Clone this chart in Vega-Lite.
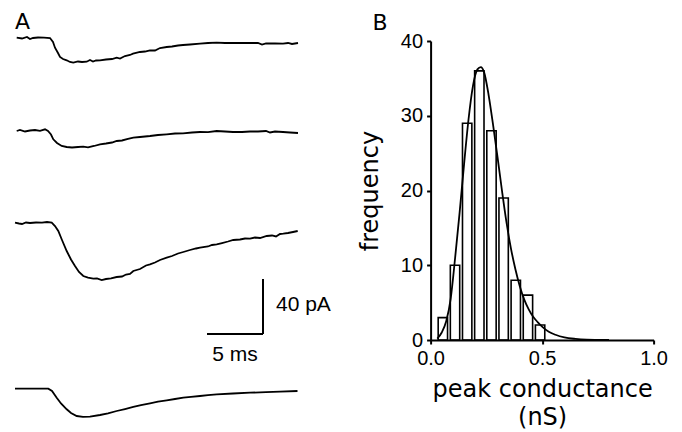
{
  "$schema": "https://vega.github.io/schema/vega-lite/v6.json",
  "background": "white",
  "padding": {"left": 11, "top": 10, "right": 0, "bottom": 0},
  "spacing": 112.6,
  "bounds": "flush",
  "config": {
    "view": {"stroke": null},
    "axis": {
      "grid": false,
      "domainColor": "black",
      "domainWidth": 2,
      "tickColor": "black",
      "tickWidth": 2,
      "tickSize": 4,
      "labelFont": "Liberation Sans",
      "labelFontSize": 20,
      "labelColor": "black",
      "labelPadding": 4,
      "labelFlush": false,
      "labelOverlap": false,
      "titleFont": "DejaVu Sans",
      "titleFontSize": 24,
      "titleFontWeight": "normal",
      "titleColor": "black"
    }
  },
  "datasets": {
    "traces": [
      {"trace": 1, "t": 0.152, "i": 2.4}, {"trace": 1, "t": 0.625, "i": 1.82}, {"trace": 1, "t": 1.071, "i": 2.91}, {"trace": 1, "t": 1.339, "i": 1.45}, {"trace": 1, "t": 1.607, "i": 2.18}, {"trace": 1, "t": 2.054, "i": 2.55}, {"trace": 1, "t": 2.589, "i": 2.4}, {"trace": 1, "t": 3.125, "i": 2.18}, {"trace": 1, "t": 3.393, "i": -0.73}, {"trace": 1, "t": 3.571, "i": -4.87}, {"trace": 1, "t": 3.839, "i": -8.73}, {"trace": 1, "t": 4.018, "i": -11.64}, {"trace": 1, "t": 4.286, "i": -13.09}, {"trace": 1, "t": 4.616, "i": -14.04}, {"trace": 1, "t": 4.911, "i": -15.27}, {"trace": 1, "t": 5.205, "i": -15.78}, {"trace": 1, "t": 5.625, "i": -14.91}, {"trace": 1, "t": 5.982, "i": -15.27}, {"trace": 1, "t": 6.402, "i": -15.05}, {"trace": 1, "t": 6.696, "i": -13.82}, {"trace": 1, "t": 6.964, "i": -14.91}, {"trace": 1, "t": 7.232, "i": -14.18}, {"trace": 1, "t": 7.589, "i": -14.04}, {"trace": 1, "t": 8.125, "i": -13.45}, {"trace": 1, "t": 8.661, "i": -13.09}, {"trace": 1, "t": 9.08, "i": -12.15}, {"trace": 1, "t": 9.375, "i": -12.73}, {"trace": 1, "t": 9.821, "i": -10.91}, {"trace": 1, "t": 10.268, "i": -10.18}, {"trace": 1, "t": 10.536, "i": -9.24}, {"trace": 1, "t": 11.161, "i": -8.0}, {"trace": 1, "t": 11.607, "i": -7.64}, {"trace": 1, "t": 12.054, "i": -6.76}, {"trace": 1, "t": 12.5, "i": -6.91}, {"trace": 1, "t": 12.946, "i": -5.09}, {"trace": 1, "t": 13.545, "i": -4.36}, {"trace": 1, "t": 14.018, "i": -4.0}, {"trace": 1, "t": 14.554, "i": -3.27}, {"trace": 1, "t": 15.0, "i": -2.91}, {"trace": 1, "t": 15.625, "i": -2.55}, {"trace": 1, "t": 16.518, "i": -1.96}, {"trace": 1, "t": 17.232, "i": -1.45}, {"trace": 1, "t": 18.009, "i": -1.24}, {"trace": 1, "t": 18.75, "i": -1.45}, {"trace": 1, "t": 19.464, "i": -1.31}, {"trace": 1, "t": 20.268, "i": -1.45}, {"trace": 1, "t": 20.982, "i": -1.45}, {"trace": 1, "t": 21.696, "i": -1.45}, {"trace": 1, "t": 22.054, "i": -2.55}, {"trace": 1, "t": 22.411, "i": -1.67}, {"trace": 1, "t": 23.214, "i": -1.82}, {"trace": 1, "t": 23.929, "i": -1.96}, {"trace": 1, "t": 24.375, "i": -1.45}, {"trace": 1, "t": 24.732, "i": -2.18}, {"trace": 1, "t": 25.268, "i": -1.45},
      {"trace": 2, "t": 0.152, "i": -65.45}, {"trace": 2, "t": 0.446, "i": -64.73}, {"trace": 2, "t": 0.893, "i": -65.82}, {"trace": 2, "t": 1.339, "i": -65.09}, {"trace": 2, "t": 1.786, "i": -64.73}, {"trace": 2, "t": 2.232, "i": -65.31}, {"trace": 2, "t": 2.679, "i": -64.22}, {"trace": 2, "t": 2.946, "i": -65.45}, {"trace": 2, "t": 3.214, "i": -68.0}, {"trace": 2, "t": 3.42, "i": -71.49}, {"trace": 2, "t": 3.75, "i": -74.18}, {"trace": 2, "t": 4.17, "i": -76.36}, {"trace": 2, "t": 4.616, "i": -77.09}, {"trace": 2, "t": 5.089, "i": -77.45}, {"trace": 2, "t": 5.625, "i": -77.09}, {"trace": 2, "t": 6.098, "i": -76.87}, {"trace": 2, "t": 6.518, "i": -77.31}, {"trace": 2, "t": 7.054, "i": -76.36}, {"trace": 2, "t": 7.589, "i": -75.13}, {"trace": 2, "t": 8.125, "i": -74.55}, {"trace": 2, "t": 8.661, "i": -73.82}, {"trace": 2, "t": 9.08, "i": -72.73}, {"trace": 2, "t": 9.554, "i": -72.36}, {"trace": 2, "t": 10.089, "i": -71.27}, {"trace": 2, "t": 10.563, "i": -70.33}, {"trace": 2, "t": 11.161, "i": -69.82}, {"trace": 2, "t": 11.607, "i": -69.45}, {"trace": 2, "t": 12.054, "i": -69.09}, {"trace": 2, "t": 12.768, "i": -68.36}, {"trace": 2, "t": 13.545, "i": -67.85}, {"trace": 2, "t": 14.286, "i": -67.27}, {"trace": 2, "t": 15.0, "i": -67.13}, {"trace": 2, "t": 15.804, "i": -66.55}, {"trace": 2, "t": 16.518, "i": -66.18}, {"trace": 2, "t": 17.232, "i": -66.33}, {"trace": 2, "t": 18.009, "i": -65.45}, {"trace": 2, "t": 18.75, "i": -65.82}, {"trace": 2, "t": 19.464, "i": -66.18}, {"trace": 2, "t": 20.268, "i": -66.18}, {"trace": 2, "t": 20.982, "i": -65.82}, {"trace": 2, "t": 21.696, "i": -65.82}, {"trace": 2, "t": 22.411, "i": -65.45}, {"trace": 2, "t": 22.768, "i": -66.55}, {"trace": 2, "t": 23.214, "i": -65.82}, {"trace": 2, "t": 23.929, "i": -66.18}, {"trace": 2, "t": 24.554, "i": -66.55}, {"trace": 2, "t": 25.268, "i": -66.91},
      {"trace": 3, "t": 0.0, "i": -132.15}, {"trace": 3, "t": 0.357, "i": -132.73}, {"trace": 3, "t": 0.625, "i": -133.09}, {"trace": 3, "t": 0.982, "i": -132.0}, {"trace": 3, "t": 1.339, "i": -132.36}, {"trace": 3, "t": 1.875, "i": -132.0}, {"trace": 3, "t": 2.411, "i": -132.15}, {"trace": 3, "t": 2.857, "i": -131.64}, {"trace": 3, "t": 3.277, "i": -132.15}, {"trace": 3, "t": 3.571, "i": -134.55}, {"trace": 3, "t": 3.866, "i": -138.18}, {"trace": 3, "t": 4.196, "i": -144.73}, {"trace": 3, "t": 4.616, "i": -152.73}, {"trace": 3, "t": 5.0, "i": -158.91}, {"trace": 3, "t": 5.357, "i": -163.64}, {"trace": 3, "t": 5.714, "i": -168.0}, {"trace": 3, "t": 6.098, "i": -170.91}, {"trace": 3, "t": 6.518, "i": -172.15}, {"trace": 3, "t": 6.991, "i": -172.87}, {"trace": 3, "t": 7.321, "i": -172.73}, {"trace": 3, "t": 7.741, "i": -173.82}, {"trace": 3, "t": 8.125, "i": -173.09}, {"trace": 3, "t": 8.571, "i": -172.58}, {"trace": 3, "t": 9.08, "i": -171.64}, {"trace": 3, "t": 9.554, "i": -171.27}, {"trace": 3, "t": 9.911, "i": -169.82}, {"trace": 3, "t": 10.268, "i": -169.45}, {"trace": 3, "t": 10.563, "i": -167.27}, {"trace": 3, "t": 11.161, "i": -165.82}, {"trace": 3, "t": 11.696, "i": -163.27}, {"trace": 3, "t": 12.054, "i": -162.4}, {"trace": 3, "t": 12.5, "i": -161.09}, {"trace": 3, "t": 12.946, "i": -159.27}, {"trace": 3, "t": 13.545, "i": -157.6}, {"trace": 3, "t": 14.018, "i": -156.36}, {"trace": 3, "t": 14.554, "i": -154.55}, {"trace": 3, "t": 15.027, "i": -153.45}, {"trace": 3, "t": 15.625, "i": -152.0}, {"trace": 3, "t": 16.161, "i": -150.91}, {"trace": 3, "t": 16.518, "i": -150.33}, {"trace": 3, "t": 17.232, "i": -149.45}, {"trace": 3, "t": 17.589, "i": -148.36}, {"trace": 3, "t": 18.009, "i": -147.85}, {"trace": 3, "t": 18.482, "i": -146.91}, {"trace": 3, "t": 19.018, "i": -145.82}, {"trace": 3, "t": 19.491, "i": -144.73}, {"trace": 3, "t": 20.089, "i": -144.36}, {"trace": 3, "t": 20.536, "i": -143.64}, {"trace": 3, "t": 20.982, "i": -143.78}, {"trace": 3, "t": 21.429, "i": -142.91}, {"trace": 3, "t": 21.875, "i": -143.27}, {"trace": 3, "t": 22.473, "i": -141.82}, {"trace": 3, "t": 22.946, "i": -141.45}, {"trace": 3, "t": 23.304, "i": -142.18}, {"trace": 3, "t": 23.661, "i": -140.36}, {"trace": 3, "t": 23.955, "i": -140.15}, {"trace": 3, "t": 24.375, "i": -139.64}, {"trace": 3, "t": 24.821, "i": -138.91}, {"trace": 3, "t": 25.241, "i": -138.18},
      {"trace": 4, "t": 0.0, "i": -252.87}, {"trace": 4, "t": 2.973, "i": -252.87}, {"trace": 4, "t": 3.304, "i": -254.55}, {"trace": 4, "t": 3.723, "i": -259.42}, {"trace": 4, "t": 4.107, "i": -263.64}, {"trace": 4, "t": 4.616, "i": -267.85}, {"trace": 4, "t": 5.0, "i": -270.55}, {"trace": 4, "t": 5.509, "i": -272.73}, {"trace": 4, "t": 6.071, "i": -273.31}, {"trace": 4, "t": 6.696, "i": -273.24}, {"trace": 4, "t": 7.589, "i": -272.0}, {"trace": 4, "t": 8.304, "i": -270.76}, {"trace": 4, "t": 9.08, "i": -269.09}, {"trace": 4, "t": 9.821, "i": -267.64}, {"trace": 4, "t": 10.563, "i": -266.18}, {"trace": 4, "t": 11.25, "i": -264.73}, {"trace": 4, "t": 12.054, "i": -263.49}, {"trace": 4, "t": 12.768, "i": -262.33}, {"trace": 4, "t": 13.545, "i": -261.31}, {"trace": 4, "t": 14.286, "i": -260.36}, {"trace": 4, "t": 15.027, "i": -259.42}, {"trace": 4, "t": 15.714, "i": -258.76}, {"trace": 4, "t": 16.518, "i": -258.18}, {"trace": 4, "t": 17.232, "i": -257.6}, {"trace": 4, "t": 18.009, "i": -256.95}, {"trace": 4, "t": 19.464, "i": -256.36}, {"trace": 4, "t": 20.982, "i": -255.78}, {"trace": 4, "t": 22.411, "i": -255.42}, {"trace": 4, "t": 23.661, "i": -255.05}, {"trace": 4, "t": 25.223, "i": -254.55}
    ],
    "scalebar": [
      {"t": 17.143, "t2": 22.143, "i": -213.09, "i2": -213.09},
      {"t": 22.143, "t2": 22.143, "i": -173.09, "i2": -213.09}
    ],
    "hist": [
      {"lo": 0.034, "hi": 0.076, "count": 3},
      {"lo": 0.0885, "hi": 0.1305, "count": 10},
      {"lo": 0.143, "hi": 0.185, "count": 29},
      {"lo": 0.1975, "hi": 0.2395, "count": 36},
      {"lo": 0.252, "hi": 0.294, "count": 28},
      {"lo": 0.3065, "hi": 0.3485, "count": 19},
      {"lo": 0.361, "hi": 0.403, "count": 8},
      {"lo": 0.4155, "hi": 0.4575, "count": 6},
      {"lo": 0.47, "hi": 0.512, "count": 2}
    ],
    "fit": [
      {"g": 0.03, "f": 0.2}, {"g": 0.05, "f": 1.0}, {"g": 0.07, "f": 2.5}, {"g": 0.09, "f": 5.5}, {"g": 0.11, "f": 11}, {"g": 0.13, "f": 17}, {"g": 0.15, "f": 23.5}, {"g": 0.17, "f": 29.5}, {"g": 0.19, "f": 34}, {"g": 0.21, "f": 36.2}, {"g": 0.225, "f": 36.5}, {"g": 0.24, "f": 35.8}, {"g": 0.26, "f": 32.8}, {"g": 0.28, "f": 28.8}, {"g": 0.3, "f": 24.5}, {"g": 0.32, "f": 20}, {"g": 0.34, "f": 15.8}, {"g": 0.36, "f": 12.3}, {"g": 0.38, "f": 9.5}, {"g": 0.4, "f": 7.2}, {"g": 0.42, "f": 5.4}, {"g": 0.44, "f": 4.1}, {"g": 0.46, "f": 3.1}, {"g": 0.48, "f": 2.4}, {"g": 0.5, "f": 1.8}, {"g": 0.53, "f": 1.1}, {"g": 0.56, "f": 0.7}, {"g": 0.6, "f": 0.35}, {"g": 0.65, "f": 0.15}, {"g": 0.7, "f": 0.05}, {"g": 0.75, "f": 0.02}, {"g": 0.8, "f": 0}
    ]
  },
  "hconcat": [
    {
      "width": 302.4,
      "height": 385,
      "layer": [
        {
          "data": {"name": "traces"},
          "mark": {"type": "line", "color": "black", "strokeWidth": 1.8},
          "encoding": {
            "x": {"field": "t", "type": "quantitative", "scale": {"domain": [0, 27], "nice": false, "zero": false}, "axis": null},
            "y": {"field": "i", "type": "quantitative", "scale": {"domain": [-280, 0], "nice": false, "zero": false}, "axis": null},
            "detail": {"field": "trace", "type": "nominal"}
          }
        },
        {
          "data": {"name": "scalebar"},
          "mark": {"type": "rule", "color": "black", "strokeWidth": 2},
          "encoding": {
            "x": {"field": "t", "type": "quantitative", "scale": {"domain": [0, 27], "nice": false, "zero": false}, "axis": null},
            "x2": {"field": "t2"},
            "y": {"field": "i", "type": "quantitative", "scale": {"domain": [-280, 0], "nice": false, "zero": false}, "axis": null},
            "y2": {"field": "i2"}
          }
        },
        {
          "data": {"values": [{"label": "40 pA", "t": 23.3, "i": -192.0}]},
          "mark": {"type": "text", "align": "left", "baseline": "middle", "font": "Liberation Sans", "fontSize": 21, "color": "black"},
          "encoding": {
            "x": {"field": "t", "type": "quantitative", "scale": {"domain": [0, 27], "nice": false, "zero": false}, "axis": null},
            "y": {"field": "i", "type": "quantitative", "scale": {"domain": [-280, 0], "nice": false, "zero": false}, "axis": null},
            "text": {"field": "label"}
          }
        },
        {
          "data": {"values": [{"label": "5 ms", "t": 19.64, "i": -228.0}]},
          "mark": {"type": "text", "align": "center", "baseline": "middle", "font": "Liberation Sans", "fontSize": 21, "color": "black"},
          "encoding": {
            "x": {"field": "t", "type": "quantitative", "scale": {"domain": [0, 27], "nice": false, "zero": false}, "axis": null},
            "y": {"field": "i", "type": "quantitative", "scale": {"domain": [-280, 0], "nice": false, "zero": false}, "axis": null},
            "text": {"field": "label"}
          }
        },
        {
          "data": {"values": [{"label": "A", "t": 0, "i": 8.73}]},
          "mark": {"type": "text", "align": "left", "baseline": "alphabetic", "font": "DejaVu Sans", "fontSize": 22, "color": "black"},
          "encoding": {
            "x": {"field": "t", "type": "quantitative", "scale": {"domain": [0, 27], "nice": false, "zero": false}, "axis": null},
            "y": {"field": "i", "type": "quantitative", "scale": {"domain": [-280, 0], "nice": false, "zero": false}, "axis": null},
            "text": {"field": "label"}
          }
        }
      ]
    },
    {
      "width": 223,
      "height": 299,
      "layer": [
        {
          "data": {"name": "hist"},
          "mark": {"type": "rect", "fill": "white", "fillOpacity": 0, "stroke": "black", "strokeWidth": 1.6},
          "encoding": {
            "x": {"field": "lo", "type": "quantitative", "scale": {"domain": [0, 1], "nice": false}, "axis": {"values": [0, 0.5, 1], "format": ".1f", "title": ["peak conductance", "(nS)"], "titlePadding": 9, "titleLineHeight": 28}},
            "x2": {"field": "hi"},
            "y": {"field": "count", "type": "quantitative", "scale": {"domain": [0, 40], "nice": false}, "axis": {"values": [0, 10, 20, 30, 40], "title": "frequency", "titlePadding": 18}},
            "y2": {"datum": 0}
          }
        },
        {
          "data": {"name": "fit"},
          "mark": {"type": "line", "color": "black", "strokeWidth": 1.8, "interpolate": "monotone"},
          "encoding": {
            "x": {"field": "g", "type": "quantitative", "scale": {"domain": [0, 1], "nice": false}, "title": ["peak conductance", "(nS)"]},
            "y": {"field": "f", "type": "quantitative", "scale": {"domain": [0, 40], "nice": false}, "title": "frequency"}
          }
        },
        {
          "data": {"values": [{"label": "B", "x": -0.26, "y": 41.47}]},
          "mark": {"type": "text", "align": "left", "baseline": "alphabetic", "font": "DejaVu Sans", "fontSize": 22, "color": "black"},
          "encoding": {
            "x": {"field": "x", "type": "quantitative", "scale": {"domain": [0, 1], "nice": false}, "title": ["peak conductance", "(nS)"]},
            "y": {"field": "y", "type": "quantitative", "scale": {"domain": [0, 40], "nice": false}, "title": "frequency"},
            "text": {"field": "label"}
          }
        }
      ]
    }
  ]
}
